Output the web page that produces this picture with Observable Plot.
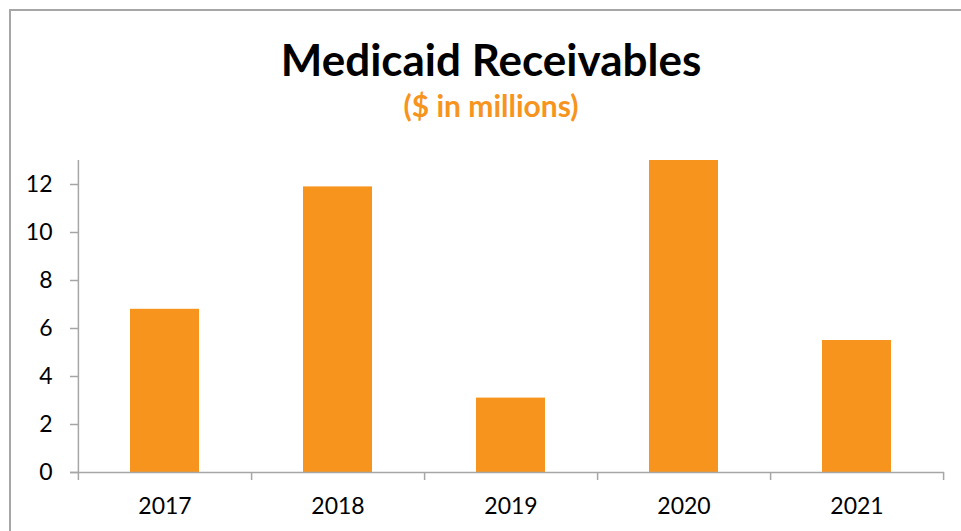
<!DOCTYPE html>
<html>
<head>
<meta charset="utf-8">
<script src="https://cdn.jsdelivr.net/npm/d3@7"></script>
<script src="https://cdn.jsdelivr.net/npm/@observablehq/plot@0.6"></script>
<style>
  html, body { margin: 0; padding: 0; background: #fff; }
  #wrap { position: relative; width: 961px; height: 531px; overflow: hidden; background: #fff; font-family: Lato, "Open Sans", sans-serif; }
  #border { position: absolute; left: 9px; top: 9px; right: -10px; bottom: -10px; border-top: 2px solid #a6a6a6; border-left: 2px solid #a6a6a6; }
  .title { position: absolute; left: 10px; width: 962px; text-align: center; line-height: 1; font-weight: 700; white-space: nowrap; }
  #title { top: 37px; font-size: 44px; color: #000; }
  #subtitle { top: 90px; font-size: 30px; color: #F7941D; }
  #chart { position: absolute; left: 0; top: 145px; }
</style>
</head>
<body>
<div id="wrap">
  <div id="border"></div>
  <div class="title" id="title">Medicaid Receivables</div>
  <div class="title" id="subtitle">($ in millions)</div>
  <div id="chart"></div>
</div>
<script>
const years = ["2017", "2018", "2019", "2020", "2021"];
const receivables = [6.8, 11.9, 3.1, 13.0, 5.5];
const yTicks = [0, 2, 4, 6, 8, 10, 12];
const yDomain = [0, 13];

const data = years.map((year, i) => ({year, value: receivables[i]}));

const W = 961, H = 386, mL = 78, mR = 17, mT = 15, mB = 59;
const step = (W - mL - mR) / years.length;
const gray = "#a6a6a6";
const orange = "#F7941D";

const chart = Plot.plot({
  width: W,
  height: H,
  marginLeft: mL,
  marginRight: mR,
  marginTop: mT,
  marginBottom: mB,
  style: {fontFamily: "Lato, 'Open Sans', sans-serif", fontSize: "23px", background: "transparent", color: "#000", overflow: "visible"},
  x: {domain: years, paddingInner: 0.6, paddingOuter: 0.3, axis: null},
  y: {domain: yDomain, axis: null},
  marks: [
    Plot.barY(data, {x: "year", y: "value", fill: orange}),
    Plot.ruleY([0], {stroke: gray, strokeWidth: 1.5, insetLeft: -8}),
    Plot.ruleX([years[0]], {x: d => d, dx: -step / 2, y1: () => yDomain[1], y2: () => yDomain[0], insetBottom: -8, stroke: gray, strokeWidth: 1.5}),
    Plot.ruleX(years, {x: d => d, dx: step / 2, y1: () => yDomain[0], y2: () => yDomain[0], insetBottom: -8, stroke: gray, strokeWidth: 1.5}),
    Plot.axisY({ticks: yTicks, tickSize: 8, tickPadding: 18, stroke: gray, strokeWidth: 1.5, fill: "#000", fontSize: 23, label: null}),
    Plot.axisX({tickSize: 0, tickPadding: 25, fill: "#000", fontSize: 23, label: null})
  ]
});
document.getElementById("chart").appendChild(chart);
</script>
</body>
</html>
